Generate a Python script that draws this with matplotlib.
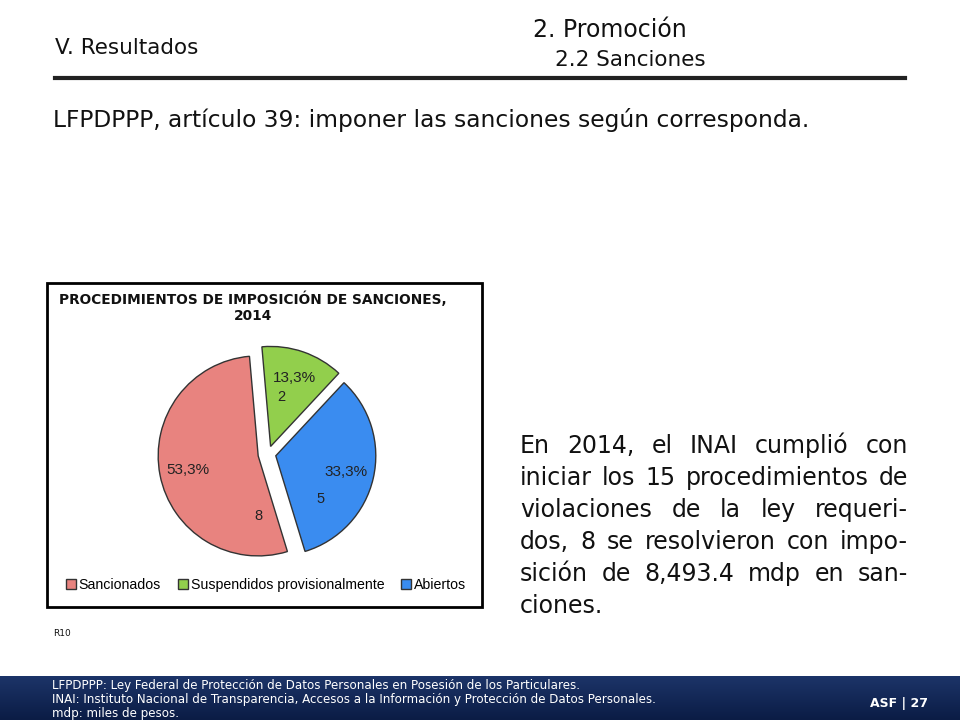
import matplotlib
matplotlib.use("Agg")
import matplotlib.pyplot as plt
from matplotlib.patches import Rectangle
import numpy as np

# chart data
categories = ["Sancionados", "Suspendidos provisionalmente", "Abiertos"]
counts = [8, 2, 5]
colors = ["#E8837F", "#92CF4C", "#3A8CF0"]
chart_title = "PROCEDIMIENTOS DE IMPOSICIÓN DE SANCIONES,\n2014"

# slide text
paragraph = ["En 2014, el INAI cumplió con",
             "iniciar los 15 procedimientos de",
             "violaciones de la ley requeri-",
             "dos, 8 se resolvieron con impo-",
             "sición de 8,493.4 mdp en san-",
             "ciones."]
footer_lines = ["LFPDPPP: Ley Federal de Protección de Datos Personales en Posesión de los Particulares.",
                "INAI: Instituto Nacional de Transparencia, Accesos a la Información y Protección de Datos Personales.",
                "mdp: miles de pesos."]

W, H = 960, 720
fig = plt.figure(figsize=(9.6, 7.2), dpi=100)
fig.patch.set_facecolor("white")


def fx(x):
    return x / W


def fy(y):
    return 1 - y / H


# header
fig.text(fx(55), fy(48), "V. Resultados", fontsize=15.5, va="center", color="#111111")
fig.text(fx(533), fy(30), "2. Promoción", fontsize=17, va="center", color="#111111")
fig.text(fx(555), fy(60), "2.2 Sanciones", fontsize=15.5, va="center", color="#111111")
fig.add_artist(plt.Line2D([fx(55), fx(905)], [fy(78), fy(78)], color="#222222", lw=3))
fig.text(fx(53), fy(120), "LFPDPPP, artículo 39: imponer las sanciones según corresponda.",
         fontsize=16.8, va="center", color="#111111")

# chart box
fig.add_artist(Rectangle((fx(47), fy(607)), fx(482) - fx(47), fy(283) - fy(607),
                         transform=fig.transFigure, fill=False, ec="black", lw=2))
fig.text(fx(253), fy(307), chart_title, ha="center", va="center", fontsize=9.9,
         fontweight="bold", linespacing=1.2, color="#111111")

# pie
cx, cy, half = 268, 454, 135
ax = fig.add_axes([fx(cx - half), fy(cy + half), 2 * half / W, 2 * half / H])

wedges, texts, autotexts = ax.pie(
    counts, colors=colors, startangle=-73, counterclock=False,
    explode=[0.1, 0.08, 0.08], radius=1.0, pctdistance=0.72,
    autopct=lambda p: f"{p:.1f}".replace(".", ",") + "%",
    wedgeprops=dict(edgecolor="#333333", linewidth=1),
    textprops=dict(fontsize=11, family="Liberation Sans", color="#222222"))
ax.set_xlim(-1.35, 1.35)
ax.set_ylim(-1.35, 1.35)
ax.set_aspect("equal")
ax.axis("off")

# value labels inside each wedge (angle in deg, distance)
value_pos = [(261, 0.63), (77, 0.58), (-41, 0.69)]
for (ang, r), val in zip(value_pos, counts):
    a = np.deg2rad(ang)
    ax.text(r * np.cos(a), r * np.sin(a), str(val), ha="center", va="center",
            fontsize=10.5, family="Liberation Sans", color="#222222")

fig.legend(wedges, categories, loc="center", bbox_to_anchor=(fx(266), fy(585)),
           ncol=3, frameon=False, handlelength=0.7, handleheight=0.7,
           handletextpad=0.2, columnspacing=1.2, prop=dict(family="Liberation Sans", size=10.2))

# justified paragraph
renderer = fig.canvas.get_renderer()
left, right = 520, 908
y0, dy = 453, 32
psize = 17
for i, line in enumerate(paragraph):
    words = line.split(" ")
    y = fy(y0 + i * dy)
    objs = [fig.text(0, y, w, fontsize=psize, va="baseline", color="#111111") for w in words]
    widths = [o.get_window_extent(renderer).width for o in objs]
    if i < len(paragraph) - 1 and len(words) > 1:
        gap = (right - left - sum(widths)) / (len(words) - 1)
    else:
        gap = psize * 0.45
    x = left
    for o, w in zip(objs, widths):
        o.set_x(fx(x))
        x += w + gap

fig.text(fx(53), fy(633), "R10", fontsize=6.5, va="center", color="#111111")

# footer band
grad = np.linspace(0, 1, 50).reshape(-1, 1)
fax = fig.add_axes([0, 0, 1, (H - 676) / H])
fax.imshow(grad, aspect="auto", cmap=matplotlib.colors.LinearSegmentedColormap.from_list(
    "navy", ["#1C3468", "#0B1C45"]), extent=[0, 1, 0, 1])
fax.axis("off")
for i, t in enumerate(footer_lines):
    fig.text(fx(52), fy(686 + i * 14), t, fontsize=8.6, color="white", va="center")
fig.text(fx(870), fy(704), "ASF | 27", fontsize=9, fontweight="bold", color="white", va="center")

fig.savefig("out.png", dpi=100, facecolor="white")
